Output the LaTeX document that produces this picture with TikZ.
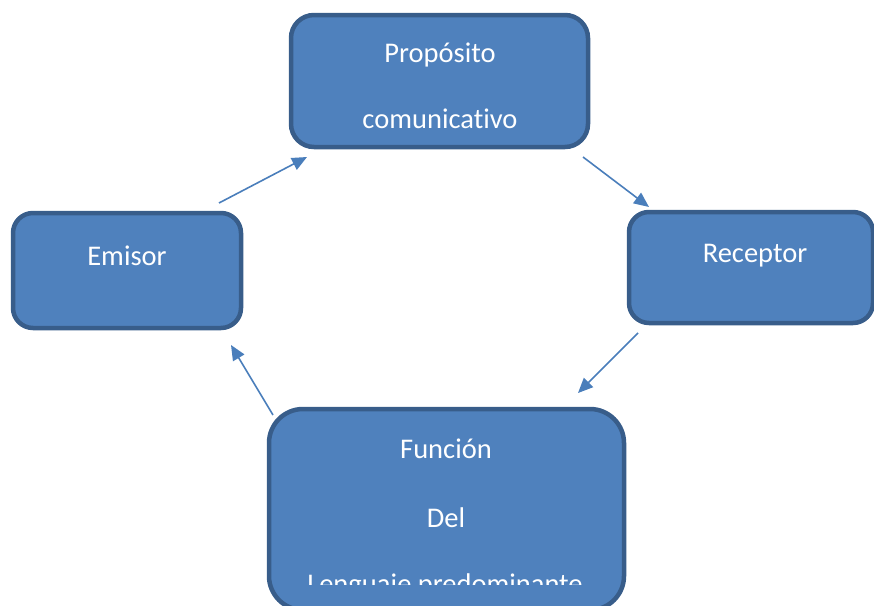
\documentclass[tikz,border=0pt]{standalone}
\usepackage{fontspec}
\setmainfont{Carlito}[Ligatures=NoCommon]
\usetikzlibrary{arrows.meta}
\definecolor{boxfill}{HTML}{4F81BD}
\definecolor{boxline}{HTML}{385D8A}
\definecolor{arrowcol}{HTML}{4A7EBB}
\begin{document}
\begin{tikzpicture}[x=1pt,y=-1pt,
  box/.style={draw=boxline, fill=boxfill, line width=4.5pt},
  lbl/.style={text=white, anchor=base, inner sep=0pt, font=\fontsize{28.5}{34}\selectfont},
  conn/.style={draw=arrowcol, line width=1.6pt, -{Triangle[length=15pt,width=13pt]}}]
\useasboundingbox (0,0) rectangle (874,605);
\clip (0,0) rectangle (874,605);
% boxes
\draw[box, rounded corners=23pt] (291,15) rectangle (588,147);
\draw[box, rounded corners=20pt] (13,213) rectangle (241,328);
\draw[box, rounded corners=20pt] (629,212) rectangle (873,323);
\draw[box, rounded corners=34pt] (269,409) rectangle (624,610);
% labels
\node[lbl] (p1) at (440,62) {Propósito};
\node[lbl] (p2) at (440,128) {comunicativo};
\node[lbl] (em) at (127,265) {Emisor};
\node[lbl] (re) at (755,262) {Receptor};
\node[lbl] (f1) at (446,458) {Función};
\node[lbl] (f2) at (446,527) {Del};
\begin{scope}
\clip (269,400) rectangle (624,584);
\node[lbl] (f3) at (445,593) {Lenguaje predominante};
\end{scope}
% connector ends
\coordinate (a1s) at (219,203);
\coordinate (a1e) at (307,157);
\coordinate (a2s) at (583,157);
\coordinate (a2e) at (649,207);
\coordinate (a3s) at (638,333);
\coordinate (a3e) at (578,393);
\coordinate (a4s) at (273,415);
\coordinate (a4e) at (231,345);
\draw[conn] (a1s) -- (a1e);
\draw[conn] (a2s) -- (a2e);
\draw[conn] (a3s) -- (a3e);
\draw[conn] (a4s) -- (a4e);
\end{tikzpicture}
\end{document}
